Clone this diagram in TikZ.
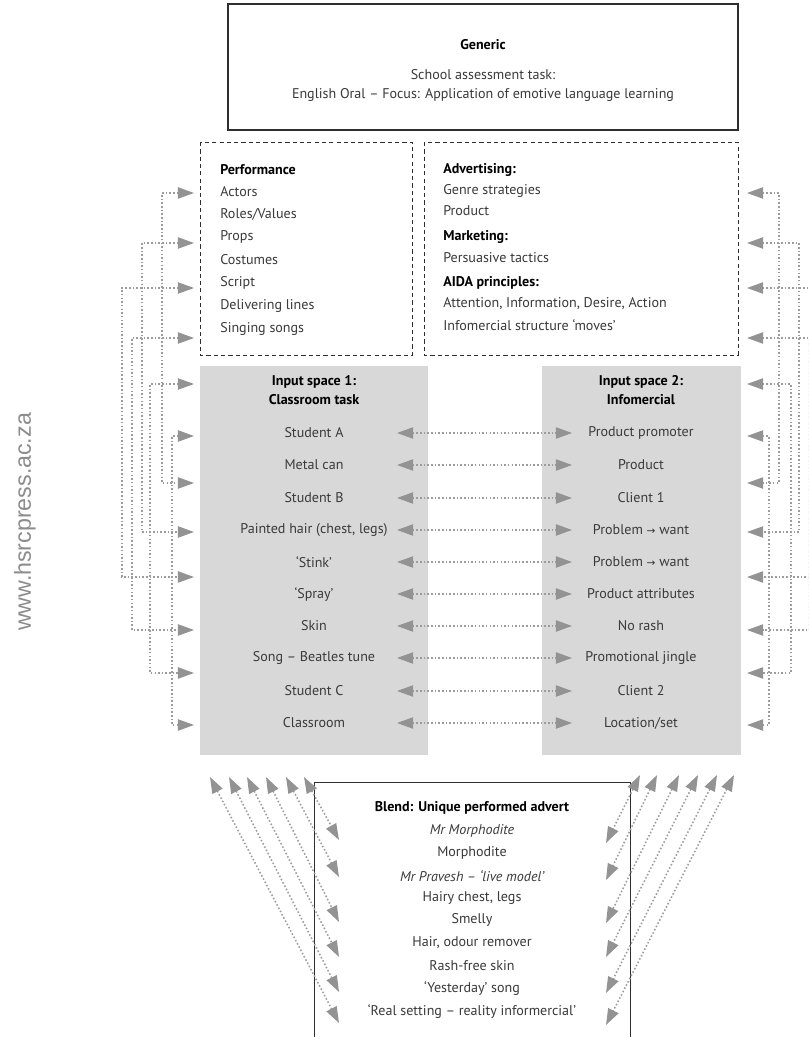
\documentclass[tikz,border=0pt]{standalone}
\usepackage{fontspec}
\setmainfont{PT Sans}
\newfontfamily\webfont{Liberation Sans}
\newfontfamily\symfont{DejaVu Sans}
\usetikzlibrary{arrows.meta}

\definecolor{boxgray}{HTML}{D8D8D8}
\definecolor{linegray}{HTML}{9C9C9C}
\definecolor{headgray}{HTML}{939393}
\definecolor{textgray}{HTML}{3A3A3A}
\definecolor{framegray}{HTML}{2E2E2E}
\definecolor{webgray}{HTML}{8C8C8C}

\tikzset{
  gtri/.tip={Triangle[length=11.5pt,width=8pt,color=headgray]},
  link/.style={linegray, line width=1.1pt, dash pattern=on 1.1pt off 1.5pt, gtri-gtri},
  item/.style={text=textgray, inner sep=0pt},
  head/.style={text=black, font=\fontsize{10}{12}\selectfont\bfseries, inner sep=0pt},
  frame/.style={framegray, line width=0.6pt, dash pattern=on 3pt off 2.2pt},
  solidbox/.style={framegray, line width=0.9pt}
}

\begin{document}
\begin{tikzpicture}[x=0.025cm, y=-0.025cm, font=\fontsize{10}{12}\selectfont]
\clip (0,0) rectangle (808,1037);
\fill[white] (0,0) rectangle (808,1037);

\node[font=\webfont\fontsize{16.5}{18}\selectfont, text=webgray, rotate=90] (web) at (25,522) {www.hsrcpress.ac.za};

% generic
\draw[solidbox] (228,4) rectangle (738,130);
\node[head] (generic) at (483,45) {Generic};
\node[item] (task) at (483,75) {School assessment task:};
\node[item] (focus) at (483,95) {English Oral – Focus: Application of emotive language learning};

% frames
\draw[frame] (200,142) rectangle (412,355);
\draw[frame] (424,142) rectangle (738,355);

\node[head, anchor=west] (perf) at (220,170) {Performance};
\foreach \y/\txt [count=\i] in {192/Actors, 214/{Roles/Values}, 237/Props, 260/Costumes, 283/Script, 306/Delivering lines, 329/Singing songs}
  \node[item, anchor=west] (pf\i) at (220,\y) {\txt};

\node[head, anchor=west] (advert) at (443,170) {Advertising:};
\node[item, anchor=west] (genre) at (443,191) {Genre strategies};
\node[item, anchor=west] (prod) at (443,211) {Product};
\node[head, anchor=west] (market) at (443,237) {Marketing:};
\node[item, anchor=west] (tactics) at (443,258) {Persuasive tactics};
\node[head, anchor=west] (aida) at (443,283) {AIDA principles:};
\node[item, anchor=west] (aidaa) at (443,304) {Attention, Information, Desire, Action};
\node[item, anchor=west] (moves) at (443,325) {Infomercial structure ‘moves’};

% input spaces
\fill[boxgray] (200,366) rectangle (428,755);
\fill[boxgray] (542,366) rectangle (741,755);
\node[head] (in1) at (314,382) {Input space 1:};
\node[head] (in1b) at (314,400) {Classroom task};
\node[head] (in2) at (641,382) {Input space 2:};
\node[head] (in2b) at (641,400) {Infomercial};

\foreach \y/\a/\b [count=\i] in {433/Student A/Product promoter, 465/Metal can/Product, 498/Student B/Client 1,
    530/{Painted hair (chest, legs)}/{Problem {\symfont\fontsize{7.5}{9}\selectfont →} want},
    562/‘Stink’/{Problem {\symfont\fontsize{7.5}{9}\selectfont →} want},
    594/‘Spray’/Product attributes, 626/Skin/No rash, 658/Song – Beatles tune/Promotional jingle,
    691/Student C/Client 2, 723/Classroom/{Location/set}} {
  \node[item] (ls\i) at (314,\y) {\a};
  \node[item] (rs\i) at (641,\y) {\b};
  \coordinate (ma\i) at (397,\y);
  \coordinate (mb\i) at (572,\y);
  \draw[link] (ma\i) -- (mb\i);
}

% side brackets
\foreach \y [count=\i] in {193,243,288,338,384,436,483,532,577,630,673,725} {
  \coordinate (la\i) at (194,\y);
  \coordinate (ra\i) at (747,\y);
}
\foreach \p/\q/\d in {1/7/32, 2/8/52, 3/9/72, 4/10/62, 5/11/44, 6/12/22} {
  \draw[link] (la\p) -- ++(-\d,0) |- (la\q);
  \draw[link] (ra\p) -- ++(\d,0) |- (ra\q);
}

% blend
\draw[solidbox, line width=0.7pt] (314,782) rectangle (630,1060);
\node[head] (blend) at (472,808) {Blend: Unique performed advert};
\foreach \y/\txt [count=\i] in {831/\itshape Mr Morphodite, 853/Morphodite, 876/\itshape Mr Pravesh – ‘live model’,
    898/{Hairy chest, legs}, 920/Smelly, 943/{Hair, odour remover}, 966/Rash-free skin,
    989/‘Yesterday’ song, 1012/‘Real setting – reality informercial’}
  \node[item] (bl\i) at (472,\y) {\txt};

\foreach \tx/\by [count=\i] in {304/840, 286/877, 266/922, 247/957, 229/992, 210/1023} {
  \coordinate (dt\i) at (\tx,777);
  \coordinate (db\i) at (339,\by);
  \draw[link] (dt\i) -- (db\i);
}
\foreach \tx/\by [count=\i] in {640/843, 657/880, 679/923, 698/957, 717/993, 734/1025} {
  \coordinate (et\i) at (\tx,775);
  \coordinate (eb\i) at (606,\by);
  \draw[link] (et\i) -- (eb\i);
}
\end{tikzpicture}
\end{document}
